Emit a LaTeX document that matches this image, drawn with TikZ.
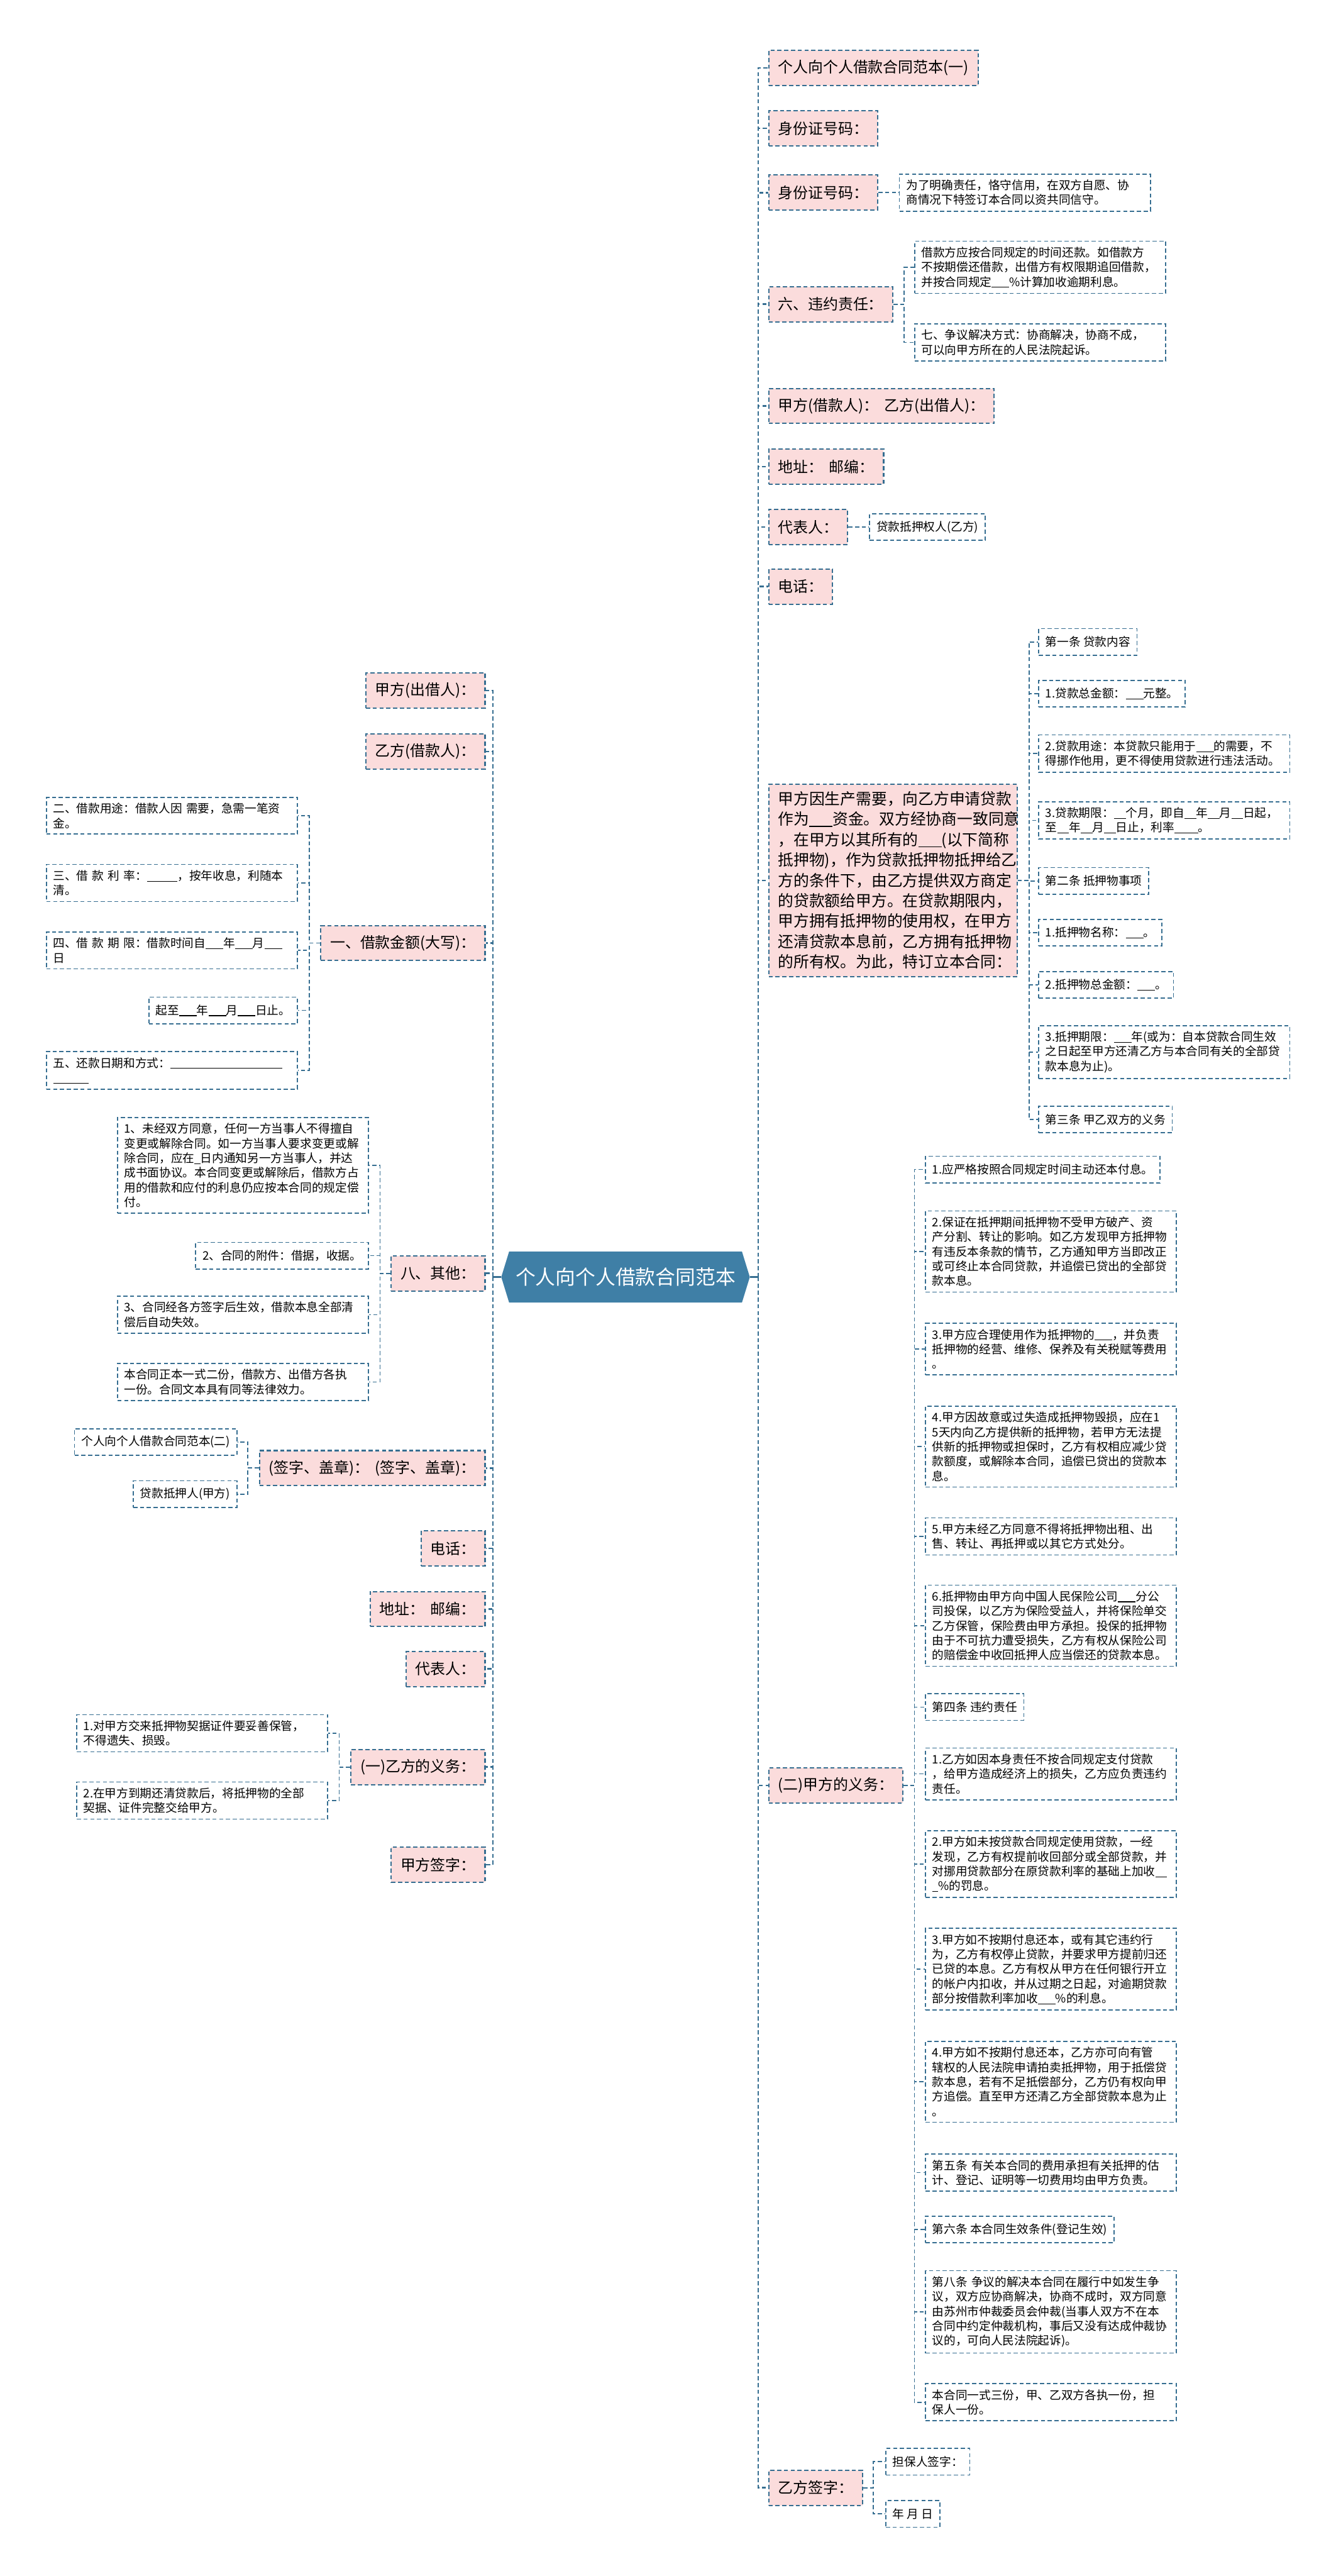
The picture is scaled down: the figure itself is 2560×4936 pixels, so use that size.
\documentclass[tikz,border=0pt]{standalone}
\usepackage{fontspec}
\setmainfont{Noto Sans CJK SC}
\usetikzlibrary{backgrounds}
\definecolor{kante}{HTML}{366E91}
\definecolor{rosa}{HTML}{FBDCDC}
\definecolor{wurzelblau}{HTML}{3F7FA6}
\newcommand{\fillgap}[1][1.5em]{\rule[-0.12em]{#1}{0.06em}}

\begin{document}
\begin{tikzpicture}[x=0.1mm, y=-0.1mm,
		wurzel/.style={minimum width=47.5mm, minimum height=9.6mm, inner sep=0pt, text=white, font=\fontsize{10.9pt}{12pt}\selectfont},
		thema/.style={draw=kante, fill=rosa, dash pattern=on 0.8mm off 0.5mm, line width=0.25mm, minimum height=6.7mm, inner xsep=1.8mm, font=\fontsize{8.2pt}{10pt}\selectfont},
		blatt/.style={draw=kante, dash pattern=on 0.8mm off 0.5mm, line width=0.2mm, minimum height=5.1mm, inner xsep=1.3mm, inner ysep=1.1mm, align=left, font=\fontsize{6.4pt}{8pt}\selectfont},
		breit/.style={blatt, text width=45.5mm},
		rechts/.style={anchor=west}, links/.style={anchor=east},
		haupt/.style={draw=kante, line width=0.32mm, dash pattern=on 0.8mm off 0.5mm},
		ast/.style={draw=kante, line width=0.2mm, dash pattern=on 0.8mm off 0.5mm}]
	\useasboundingbox (0,0) rectangle (2560,4936);
	% Wurzel
	\node[wurzel] (root) at (1199,2447) {个人向个人借款合同范本};
	\begin{scope}[on background layer]
		\fill[wurzelblau] (root.west) -- ([xshift=1.5mm]root.north west) -- ([xshift=-1.5mm]root.north east) -- (root.east) -- ([xshift=-1.5mm]root.south east) -- ([xshift=1.5mm]root.south west) -- cycle;
	\end{scope}
	% Hauptaeste rechts
	\node[thema, rechts] (r1) at (1472,130) {个人向个人借款合同范本(一)};
	\node[thema, rechts] (r2) at (1472,246) {身份证号码：};
	\node[thema, rechts] (r3) at (1472,369) {身份证号码：};
	\node[thema, rechts] (r4) at (1472,583) {六、违约责任：};
	\node[thema, rechts] (r5) at (1472,778) {甲方(借款人)：\hspace{0.4em}乙方(出借人)：};
	\node[thema, rechts] (r6) at (1472,894) {地址：\hspace{0.4em}邮编：};
	\node[thema, rechts] (r7) at (1472,1010) {代表人：};
	\node[thema, rechts] (r8) at (1472,1124) {电话：};
	\node[thema, rechts, text width=44mm, align=left, inner ysep=1.4mm, font=\fontsize{8.5pt}{11.1pt}\selectfont] (r9) at (1472,1687) {甲方因生产需要，向乙方申请贷款\\作为\fillgap{}资金。双方经协商一致同意\\，在甲方以其所有的\fillgap{}(以下简称\\抵押物)，作为贷款抵押物抵押给乙\\方的条件下，由乙方提供双方商定\\的贷款额给甲方。在贷款期限内，\\甲方拥有抵押物的使用权，在甲方\\还清贷款本息前，乙方拥有抵押物\\的所有权。为此，特订立本合同：};
	\node[thema, rechts] (r10) at (1472,3421) {(二)甲方的义务：};
	\node[thema, rechts] (r11) at (1472,4767) {乙方签字：};
	% Blaetter rechts
	\node[breit, rechts] (r3a) at (1723,369) {为了明确责任，恪守信用，在双方自愿、协\\商情况下特签订本合同以资共同信守。};
	\node[breit, rechts] (r4a) at (1752,512) {借款方应按合同规定的时间还款。如借款方\\不按期偿还借款，出借方有权限期追回借款，\\并按合同规定\fillgap{}\%计算加收逾期利息。};
	\node[breit, rechts] (r4b) at (1752,656) {七、争议解决方式：协商解决，协商不成，\\可以向甲方所在的人民法院起诉。};
	\node[blatt, rechts] (r7a) at (1666,1010) {贷款抵押权人(乙方)};
	\node[blatt, rechts] (r9a) at (1990,1230) {第一条 贷款内容};
	\node[blatt, rechts] (r9b) at (1990,1329) {1.贷款总金额：\fillgap{}元整。};
	\node[breit, rechts] (r9c) at (1990,1444) {2.贷款用途：本贷款只能用于\fillgap{}的需要，不\\得挪作他用，更不得使用贷款进行违法活动。};
	\node[breit, rechts] (r9d) at (1990,1572) {3.贷款期限：\fillgap[1em]个月，即自\fillgap[1em]年\fillgap[1em]月\fillgap[1em]日起，\\至\fillgap[1em]年\fillgap[1em]月\fillgap[1em]日止，利率\fillgap[2em]。};
	\node[blatt, rechts] (r9e) at (1990,1688) {第二条 抵押物事项};
	\node[blatt, rechts] (r9f) at (1990,1787) {1.抵押物名称：\fillgap{}。};
	\node[blatt, rechts] (r9g) at (1990,1887) {2.抵押物总金额：\fillgap{}。};
	\node[breit, rechts] (r9h) at (1990,2016) {3.抵押期限：\fillgap{}年(或为：自本贷款合同生效\\之日起至甲方还清乙方与本合同有关的全部贷\\款本息为止)。};
	\node[blatt, rechts] (r9i) at (1990,2145) {第三条 甲乙双方的义务};
	\node[blatt, rechts] (r10a) at (1773,2241) {1.应严格按照合同规定时间主动还本付息。};
	\node[breit, rechts] (r10b) at (1773,2398) {2.保证在抵押期间抵押物不受甲方破产、资\\产分割、转让的影响。如乙方发现甲方抵押物\\有违反本条款的情节，乙方通知甲方当即改正\\或可终止本合同贷款，并追偿已贷出的全部贷\\款本息。};
	\node[breit, rechts] (r10c) at (1773,2585) {3.甲方应合理使用作为抵押物的\fillgap{}，并负责\\抵押物的经营、维修、保养及有关税赋等费用\\。};
	\node[breit, rechts] (r10d) at (1773,2772) {4.甲方因故意或过失造成抵押物毁损，应在1\\5天内向乙方提供新的抵押物，若甲方无法提\\供新的抵押物或担保时，乙方有权相应减少贷\\款额度，或解除本合同，追偿已贷出的贷款本\\息。};
	\node[breit, rechts] (r10e) at (1773,2944) {5.甲方未经乙方同意不得将抵押物出租、出\\售、转让、再抵押或以其它方式处分。};
	\node[breit, rechts] (r10f) at (1773,3115) {6.抵押物由甲方向中国人民保险公司\fillgap{}分公\\司投保，以乙方为保险受益人，并将保险单交\\乙方保管，保险费由甲方承担。投保的抵押物\\由于不可抗力遭受损失，乙方有权从保险公司\\的赔偿金中收回抵押人应当偿还的贷款本息。};
	\node[blatt, rechts] (r10g) at (1773,3271) {第四条 违约责任};
	\node[breit, rechts] (r10h) at (1773,3399) {1.乙方如因本身责任不按合同规定支付贷款\\，给甲方造成经济上的损失，乙方应负责违约\\责任。};
	\node[breit, rechts] (r10i) at (1773,3572) {2.甲方如未按贷款合同规定使用贷款，一经\\发现，乙方有权提前收回部分或全部贷款，并\\对挪用贷款部分在原贷款利率的基础上加收\fillgap[1em]\\\fillgap[0.5em]\%的罚息。};
	\node[breit, rechts] (r10j) at (1773,3773) {3.甲方如不按期付息还本，或有其它违约行\\为，乙方有权停止贷款，并要求甲方提前归还\\已贷的本息。乙方有权从甲方在任何银行开立\\的帐户内扣收，并从过期之日起，对逾期贷款\\部分按借款利率加收\fillgap{}\%的利息。};
	\node[breit, rechts] (r10k) at (1773,3989) {4.甲方如不按期付息还本，乙方亦可向有管\\辖权的人民法院申请拍卖抵押物，用于抵偿贷\\款本息，若有不足抵偿部分，乙方仍有权向甲\\方追偿。直至甲方还清乙方全部贷款本息为止\\。};
	\node[breit, rechts] (r10l) at (1773,4163) {第五条 有关本合同的费用承担有关抵押的估\\计、登记、证明等一切费用均由甲方负责。};
	\node[blatt, rechts] (r10m) at (1773,4272) {第六条 本合同生效条件(登记生效)};
	\node[breit, rechts] (r10n) at (1773,4430) {第八条 争议的解决本合同在履行中如发生争\\议，双方应协商解决，协商不成时，双方同意\\由苏州市仲裁委员会仲裁(当事人双方不在本\\合同中约定仲裁机构，事后又没有达成仲裁协\\议的，可向人民法院起诉)。};
	\node[breit, rechts] (r10o) at (1773,4603) {本合同一式三份，甲、乙双方各执一份，担\\保人一份。};
	\node[blatt, rechts] (r11a) at (1697,4717) {担保人签字：};
	\node[blatt, rechts] (r11b) at (1697,4817) {年 月 日};
	% Hauptaeste links
	\node[thema, links] (l1) at (931,1323) {甲方(出借人)：};
	\node[thema, links] (l2) at (931,1440) {乙方(借款人)：};
	\node[thema, links] (l3) at (931,1807) {一、借款金额(大写)：};
	\node[thema, links] (l4) at (931,2440) {八、其他：};
	\node[thema, links] (l5) at (931,2813) {(签字、盖章)：\hspace{0.4em}(签字、盖章)：};
	\node[thema, links] (l6) at (931,2967) {电话：};
	\node[thema, links] (l7) at (931,3083) {地址：\hspace{0.4em}邮编：};
	\node[thema, links] (l8) at (931,3198) {代表人：};
	\node[thema, links] (l9) at (931,3386) {(一)乙方的义务：};
	\node[thema, links] (l10) at (931,3573) {甲方签字：};
	% Blaetter links
	\node[breit, links] (l3a) at (571,1563) {二、借款用途：借款人因 需要，急需一笔资\\金。};
	\node[breit, links] (l3b) at (571,1692) {三、借 款 利 率：\fillgap[2.6em]，按年收息，利随本\\清。};
	\node[breit, links] (l3c) at (571,1821) {四、借 款 期 限：借款时间自\fillgap{}年\fillgap{}月\fillgap{}\\日};
	\node[blatt, links] (l3d) at (571,1936) {起至\fillgap{}年\fillgap{}月\fillgap{}日止。};
	\node[breit, links] (l3e) at (571,2051) {五、还款日期和方式：\fillgap[9.5em]\\\fillgap[3em]};
	\node[breit, links] (l4a) at (707,2233) {1、未经双方同意，任何一方当事人不得擅自\\变更或解除合同。如一方当事人要求变更或解\\除合同，应在\fillgap[0.5em]日内通知另一方当事人，并达\\成书面协议。本合同变更或解除后，借款方占\\用的借款和应付的利息仍应按本合同的规定偿\\付。};
	\node[blatt, links] (l4b) at (707,2406) {2、合同的附件：借据，收据。};
	\node[breit, links] (l4c) at (707,2519) {3、合同经各方签字后生效，借款本息全部清\\偿后自动失效。};
	\node[breit, links] (l4d) at (707,2648) {本合同正本一式二份，借款方、出借方各执\\一份。合同文本具有同等法律效力。};
	\node[blatt, links] (l5a) at (455,2763) {个人向个人借款合同范本(二)};
	\node[blatt, links] (l5b) at (455,2863) {贷款抵押人(甲方)};
	\node[breit, links] (l9a) at (629,3321) {1.对甲方交来抵押物契据证件要妥善保管，\\不得遗失、损毁。};
	\node[breit, links] (l9b) at (629,3450) {2.在甲方到期还清贷款后，将抵押物的全部\\契据、证件完整交给甲方。};
	% Verbindungen
	\coordinate (rs) at ([xshift=1.6mm]root.east);
	\coordinate (ls) at ([xshift=-1.6mm]root.west);
	\draw[kante, line width=0.3mm] (root.east) -- (rs);
	\draw[kante, line width=0.3mm] (root.west) -- (ls);
	\foreach \n in {r1,r2,r3,r4,r5,r6,r7,r8,r9,r10,r11} \draw[haupt] (rs) |- (\n.west);
	\foreach \n in {l1,l2,l3,l4,l5,l6,l7,l8,l9,l10} \draw[haupt] (ls) |- (\n.east);
	\draw[ast] (r3.east) -- (r3a.west);
	\foreach \n in {r4a,r4b} \draw[ast] (r4.east) -- ++(21,0) |- (\n.west);
	\draw[ast] (r7.east) -- (r7a.west);
	\foreach \n in {r9a,r9b,r9c,r9d,r9e,r9f,r9g,r9h,r9i} \draw[ast] (r9.east) -- ++(22,0) |- (\n.west);
	\foreach \n in {r10a,r10b,r10c,r10d,r10e,r10f,r10g,r10h,r10i,r10j,r10k,r10l,r10m,r10n,r10o} \draw[ast] (r10.east) -- ++(21,0) |- (\n.west);
	\foreach \n in {r11a,r11b} \draw[ast] (r11.east) -- ++(19,0) |- (\n.west);
	\foreach \n in {l3a,l3b,l3c,l3d,l3e} \draw[ast] (l3.west) -- ++(-21,0) |- (\n.east);
	\foreach \n in {l4a,l4b,l4c,l4d} \draw[ast] (l4.west) -- ++(-20,0) |- (\n.east);
	\foreach \n in {l5a,l5b} \draw[ast] (l5.west) -- ++(-21,0) |- (\n.east);
	\foreach \n in {l9a,l9b} \draw[ast] (l9.west) -- ++(-21,0) |- (\n.east);
\end{tikzpicture}
\end{document}
